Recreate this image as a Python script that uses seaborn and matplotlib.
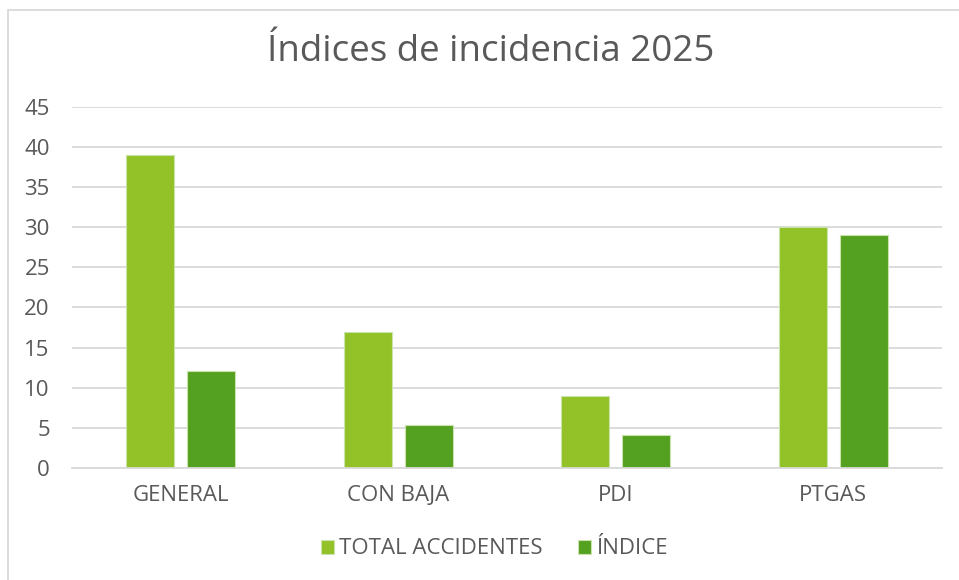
import pandas as pd
import matplotlib.pyplot as plt
import seaborn as sns
from matplotlib.patches import Rectangle

# Datos del gráfico
categorias = ["GENERAL", "CON BAJA", "PDI", "PTGAS"]
total_accidentes = [39, 17, 9, 30]
indice = [12.1, 5.3, 4.1, 29.0]
series = ["TOTAL ACCIDENTES", "ÍNDICE"]

df = pd.DataFrame({
    "Categoria": categorias * 2,
    "Serie": [series[0]] * 4 + [series[1]] * 4,
    "Valor": total_accidentes + indice,
})

sns.set_theme(style="white")
plt.rcParams['font.family'] = ['Open Sans', 'DejaVu Sans']
gris = "#595959"

fig = plt.figure(figsize=(9.59, 5.8), dpi=100)
ax = fig.add_axes([72 / 959, 1 - 468 / 580, 870 / 959, 361.3 / 580])

sns.barplot(data=df, x="Categoria", y="Valor", hue="Serie", ax=ax,
            palette=["#92C227", "#54A021"], saturation=1, width=0.56, gap=0.21,
            edgecolor="#C9E3A8", linewidth=0.8, errorbar=None)

ax.set_ylim(0, 45)
ax.set_xlim(-0.5, 3.5)
ax.set_yticks(range(0, 46, 5))
ax.yaxis.grid(True, color="#D9D9D9", linewidth=1.3)
ax.set_axisbelow(True)
for s in ["top", "right", "left"]:
    ax.spines[s].set_visible(False)
ax.spines["bottom"].set_color("#D9D9D9")
ax.spines["bottom"].set_linewidth(1.3)
ax.set_xlabel("")
ax.set_ylabel("")
ax.tick_params(axis="both", length=0, labelsize=16, colors=gris)
ax.tick_params(axis="x", pad=12)
ax.tick_params(axis="y", pad=16)

fig.text(491 / 959, 1 - 52 / 580, "Índices de incidencia 2025",
         ha="center", va="center", fontsize=26.5, color=gris)

leg = ax.legend(loc="center", bbox_to_anchor=(494 / 959, 1 - 549 / 580),
                bbox_transform=fig.transFigure, ncol=2, frameon=False,
                fontsize=16, handlelength=0.6, handleheight=0.6,
                handletextpad=0.2, columnspacing=1.6)
for t in leg.get_texts():
    t.set_color(gris)

fig.patches.append(Rectangle((8 / 959, -0.2), 1.2, 1.2 - 10 / 580, transform=fig.transFigure,
                             fill=False, edgecolor="#D9D9D9", linewidth=1.3))

fig.savefig("out.png", dpi=100)
